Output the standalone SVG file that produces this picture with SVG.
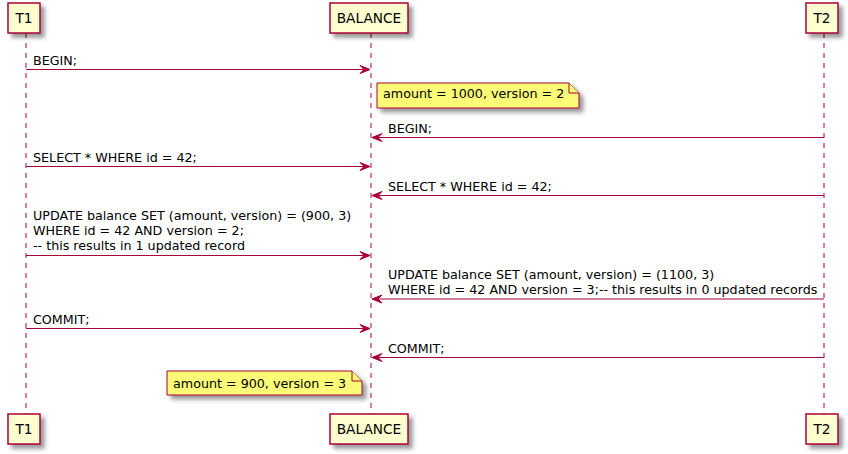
<svg xmlns="http://www.w3.org/2000/svg" width="848" height="454" viewBox="0 0 848 454">
<defs>
<filter id="sh" x="-1" y="-1" width="300%" height="300%">
<feGaussianBlur in="SourceAlpha" stdDeviation="2" result="b"/>
<feColorMatrix in="b" type="matrix" values="0 0 0 0 0  0 0 0 0 0  0 0 0 0 0  0 0 0 0.4 0" result="c"/>
<feOffset in="c" dx="4" dy="4" result="o"/>
<feBlend in="SourceGraphic" in2="o" mode="normal"/>
</filter>
<marker id="ah" markerWidth="14" markerHeight="12" refX="11" refY="5" orient="auto" markerUnits="userSpaceOnUse" viewBox="0 0 14 12" overflow="visible">
<polygon points="1,1 11,5 1,9 5,5" fill="#A80036" stroke="#A80036" stroke-width="1" stroke-linejoin="miter"/>
</marker>
</defs>
<style>
.life{stroke:#A80036;stroke-width:1;stroke-dasharray:5,5;fill:none}
.part{fill:#FEFECE;stroke:#A80036;stroke-width:1.5}
.pt{font-family:"DejaVu Sans",sans-serif;font-size:13.7px;fill:#000;text-anchor:middle}
.msg{stroke:#A80036;stroke-width:1;fill:none;marker-end:url(#ah)}
.mt{font-family:"DejaVu Sans",sans-serif;font-size:12.7px;fill:#000}
.note{fill:#FBFB77;stroke:#A80036;stroke-width:1}
</style>
<rect width="848" height="454" fill="#FFFFFF"/>
<g id="lifelines">
<line class="life" x1="26" y1="33" x2="26" y2="414"/>
<line class="life" x1="371" y1="33" x2="371" y2="414"/>
<line class="life" x1="824" y1="33" x2="824" y2="414"/>
</g>
<g id="T1">
<rect class="part" x="8" y="3" width="32" height="30" filter="url(#sh)"/>
<text class="pt" x="24" y="22.5">T1</text>
<rect class="part" x="8" y="414" width="32" height="30" filter="url(#sh)"/>
<text class="pt" x="24" y="433.5">T1</text>
</g>
<g id="BALANCE">
<rect class="part" x="330" y="3" width="78" height="30" filter="url(#sh)"/>
<text class="pt" x="369" y="22.5">BALANCE</text>
<rect class="part" x="330" y="414" width="78" height="30" filter="url(#sh)"/>
<text class="pt" x="369" y="433.5">BALANCE</text>
</g>
<g id="T2">
<rect class="part" x="806" y="3" width="32" height="30" filter="url(#sh)"/>
<text class="pt" x="822" y="22.5">T2</text>
<rect class="part" x="806" y="414" width="32" height="30" filter="url(#sh)"/>
<text class="pt" x="822" y="433.5">T2</text>
</g>
<g id="note1">
<path class="note" d="M377,83 L569,83 L579,93 L579,108 L377,108 Z" filter="url(#sh)"/>
<path class="note" d="M569,83 L569,93 L579,93" fill="none"/>
<text class="mt" x="383" y="98">amount = 1000, version = 2</text>
</g>
<g id="note2">
<path class="note" d="M167,371 L352,371 L362,381 L362,395 L167,395 Z" filter="url(#sh)"/>
<path class="note" d="M352,371 L352,381 L362,381" fill="none"/>
<text class="mt" x="173" y="387.5">amount = 900, version = 3</text>
</g>
<g id="connectors">
<line class="msg" x1="26" y1="69.5" x2="370" y2="69.5"/>
<line class="msg" x1="824" y1="137.5" x2="372" y2="137.5"/>
<line class="msg" x1="26" y1="166.5" x2="370" y2="166.5"/>
<line class="msg" x1="824" y1="195.5" x2="372" y2="195.5"/>
<line class="msg" x1="26" y1="255.5" x2="370" y2="255.5"/>
<line class="msg" x1="824" y1="299" x2="372" y2="299"/>
<line class="msg" x1="26" y1="328.5" x2="370" y2="328.5"/>
<line class="msg" x1="824" y1="357.5" x2="372" y2="357.5"/>
</g>
<g id="labels">
<text class="mt" x="33" y="64.5">BEGIN;</text>
<text class="mt" x="388" y="132.5">BEGIN;</text>
<text class="mt" x="33" y="161.5">SELECT * WHERE id = 42;</text>
<text class="mt" x="388" y="190.5">SELECT * WHERE id = 42;</text>
<text class="mt" x="33" y="220">UPDATE balance SET (amount, version) = (900, 3)</text>
<text class="mt" x="33" y="235">WHERE id = 42 AND version = 2;</text>
<text class="mt" x="33" y="250">-- this results in 1 updated record</text>
<text class="mt" x="388" y="279">UPDATE balance SET (amount, version) = (1100, 3)</text>
<text class="mt" x="388" y="294">WHERE id = 42 AND version = 3;-- this results in 0 updated records</text>
<text class="mt" x="33" y="323.5">COMMIT;</text>
<text class="mt" x="388" y="352.5">COMMIT;</text>
</g>
</svg>
